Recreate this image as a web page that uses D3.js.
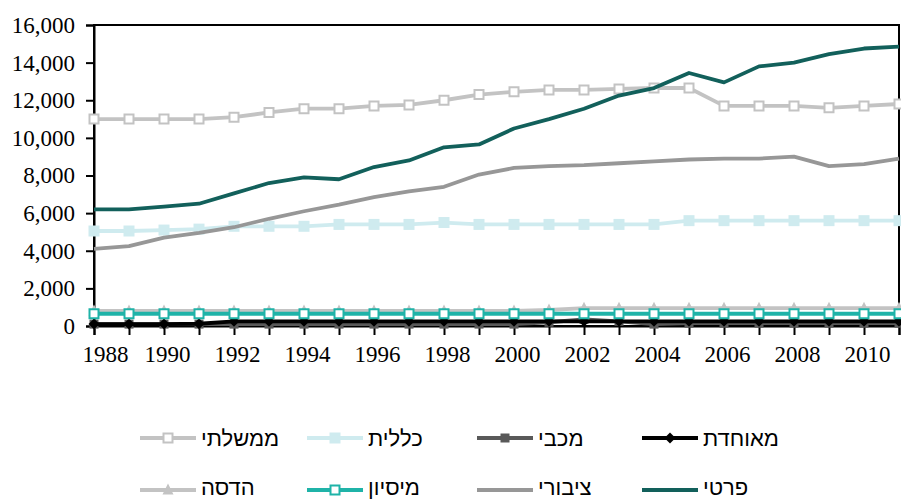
<!DOCTYPE html>
<html>
<head>
<meta charset="utf-8">
<script src="https://cdn.jsdelivr.net/npm/d3@7"></script>
<style>
  html, body { margin: 0; padding: 0; background: #fff; }
  svg { display: block; }
</style>
</head>
<body>
<svg id="chart" width="901" height="501"></svg>
<script>
// ---------- data ----------
const years = d3.range(1988, 2012);
const yTicks = [0, 2000, 4000, 6000, 8000, 10000, 12000, 14000, 16000];

const seriesNames = ["ממשלתי", "כללית", "מכבי", "מאוחדת", "הדסה", "מיסיון", "ציבורי", "פרטי"];

const memshalti = [11000, 11000, 11000, 11000, 11100, 11350, 11550, 11550, 11700, 11750, 12000, 12300,
                   12450, 12550, 12550, 12600, 12650, 12650, 11700, 11700, 11700, 11600, 11700, 11800];
const clalit    = [5050, 5050, 5100, 5150, 5300, 5300, 5300, 5400, 5400, 5400, 5500, 5400,
                   5400, 5400, 5400, 5400, 5400, 5600, 5600, 5600, 5600, 5600, 5600, 5600];
const maccabi   = [100, 100, 100, 100, 100, 100, 100, 100, 100, 100, 100, 100,
                   100, 200, 350, 250, 100, 150, 150, 150, 150, 150, 150, 150];
const meuhedet  = [100, 100, 100, 120, 250, 250, 250, 250, 250, 250, 250, 250,
                   250, 250, 250, 250, 250, 250, 250, 250, 250, 250, 250, 250];
const hadassa   = [800, 800, 800, 800, 800, 800, 800, 800, 800, 800, 800, 800,
                   800, 850, 950, 950, 950, 950, 950, 950, 950, 950, 950, 950];
const mission   = [650, 650, 650, 650, 650, 650, 650, 650, 650, 650, 650, 650,
                   650, 650, 650, 650, 650, 650, 650, 650, 650, 650, 650, 650];
const tziburi   = [4100, 4250, 4700, 4950, 5250, 5700, 6100, 6450, 6850, 7150, 7400, 8050,
                   8400, 8500, 8550, 8650, 8750, 8850, 8900, 8900, 9000, 8500, 8600, 8900];
const prati     = [6200, 6200, 6350, 6500, 7050, 7600, 7900, 7800, 8450, 8800, 9500, 9650,
                   10500, 11000, 11550, 12250, 12650, 13450, 12950, 13800, 14000, 14450, 14750, 14850];

const seriesValues = [memshalti, clalit, maccabi, meuhedet, hadassa, mission, tziburi, prati];

// ---------- styles ----------
const styles = [
  { color: "#c3c3c3", marker: "square", fill: "#ffffff", ms: 9 },
  { color: "#cfebef", marker: "square", fill: "#cfebef", ms: 11 },
  { color: "#595959", marker: "square", fill: "#595959", ms: 9 },
  { color: "#000000", marker: "diamond", fill: "#000000", ms: 11 },
  { color: "#c3c3c3", marker: "triangle", fill: "#c3c3c3", ms: 11 },
  { color: "#1fb3a8", marker: "square", fill: "#ffffff", ms: 9 },
  { color: "#979797", marker: null },
  { color: "#12605b", marker: null }
];

const series = seriesNames.map((name, i) => ({
  name, values: seriesValues[i].map((v, j) => ({ year: years[j], value: v })), style: styles[i]
}));

// ---------- layout ----------
const svg = d3.select("#chart");
const plotL = 94, plotR = 899, plotT = 25, plotB = 326;
const serif = "'Liberation Serif', 'Times New Roman', Times, serif";

const x = d3.scalePoint().domain(years).range([plotL, plotR]).padding(0);
const y = d3.scaleLinear().domain([0, 16000]).range([plotB, plotT]);

function markerPath(type, s) {
  const h = s / 2;
  if (type === "square") return `M${-h},${-h}H${h}V${h}H${-h}Z`;
  if (type === "diamond") return `M0,${-h}L${h},0L0,${h}L${-h},0Z`;
  if (type === "triangle") return `M0,${-h - 1}L${h},${h - 1}L${-h},${h - 1}Z`;
  return "";
}

// plot border
svg.append("rect")
  .attr("x", plotL).attr("y", plotT)
  .attr("width", plotR - plotL).attr("height", plotB - plotT)
  .attr("fill", "none").attr("stroke", "#000").attr("stroke-width", 2);

// y axis
const yAxis = svg.append("g")
  .attr("transform", `translate(${plotL},0)`)
  .call(d3.axisLeft(y).tickValues(yTicks).tickFormat(d3.format(",")).tickSize(8).tickPadding(11));
yAxis.attr("font-family", serif).attr("font-size", 23);
yAxis.select(".domain").attr("stroke-width", 2);
yAxis.selectAll(".tick line").attr("stroke-width", 2);
yAxis.selectAll("text").style("font-family", serif).style("font-size", "23px").attr("fill", "#000");

// x axis
const xAxis = svg.append("g")
  .attr("transform", `translate(0,${plotB})`)
  .call(d3.axisBottom(x).tickValues(years)
        .tickFormat(d => (d % 2 === 0 ? String(d) : ""))
        .tickSize(9).tickPadding(11));
xAxis.attr("font-family", serif).attr("font-size", 23);
xAxis.select(".domain").attr("stroke-width", 2);
xAxis.selectAll(".tick line").attr("stroke-width", 2);
xAxis.selectAll("text").style("font-family", serif).style("font-size", "23px").attr("fill", "#000")
  .attr("dx", (d, i) => (i === 0 ? 11 : 3));

// lines
const line = d3.line().x(d => x(d.year)).y(d => y(d.value));

series.forEach(s => {
  const g = svg.append("g");
  g.append("path")
    .datum(s.values)
    .attr("d", line)
    .attr("fill", "none")
    .attr("stroke", s.style.color)
    .attr("stroke-width", 3.8)
    .attr("stroke-linejoin", "round");
  if (s.style.marker) {
    g.selectAll("path.m")
      .data(s.values)
      .enter().append("path")
      .attr("class", "m")
      .attr("transform", d => `translate(${x(d.year)},${y(d.value)})`)
      .attr("d", markerPath(s.style.marker, s.style.ms))
      .attr("fill", s.style.fill)
      .attr("stroke", s.style.color)
      .attr("stroke-width", s.style.fill === "#ffffff" ? 2 : 0);
  }
});

// legend
const colX = [140, 307, 477, 642];
const rowY = [438, 490];
const textDy = [8, 5];
const legend = svg.append("g");
series.forEach((s, i) => {
  const r = Math.floor(i / 4);
  const cx = colX[i % 4], cy = rowY[r];
  const g = legend.append("g");
  g.append("line")
    .attr("x1", cx).attr("x2", cx + 56)
    .attr("y1", cy).attr("y2", cy)
    .attr("stroke", s.style.color).attr("stroke-width", 3.8);
  if (s.style.marker) {
    g.append("path")
      .attr("transform", `translate(${cx + 28},${cy})`)
      .attr("d", markerPath(s.style.marker, s.style.ms))
      .attr("fill", s.style.fill)
      .attr("stroke", s.style.color)
      .attr("stroke-width", s.style.fill === "#ffffff" ? 2 : 0);
  }
  g.append("text")
    .attr("x", cx + 61).attr("y", cy + textDy[r])
    .style("font-family", "'Liberation Sans', Arial, 'DejaVu Sans', sans-serif")
    .style("font-size", "22px").attr("fill", "#000")
    .text(s.name);
});
</script>
</body>
</html>
